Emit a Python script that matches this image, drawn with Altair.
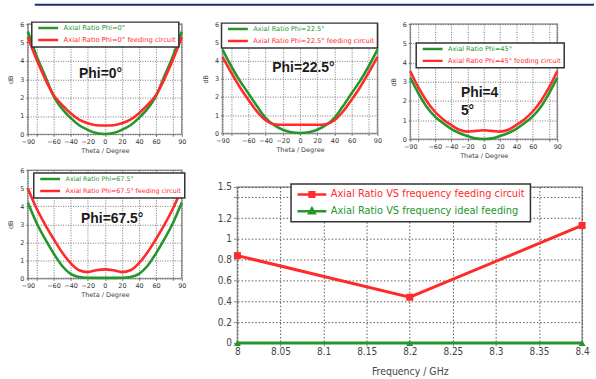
import altair as alt
import pandas as pd

GREEN = "#24962a"
RED = "#ff2a2a"
NAVY = "#1f2d6b"

theta = [-90, -80, -70, -60, -50, -40, -30, -20, -10, 0, 10, 20, 30, 40, 50, 60, 70, 80, 90]

# Phi = 0 deg
p1_ideal = [5.6, 4.3, 3.2, 2.1, 1.4, 0.9, 0.5, 0.25, 0.07, 0.02, 0.07, 0.25, 0.5, 0.9, 1.4, 2.1, 3.2, 4.3, 5.6]
p1_feed = [5.3, 4.1, 3.05, 2.15, 1.6, 1.15, 0.8, 0.6, 0.5, 0.48, 0.5, 0.6, 0.8, 1.15, 1.6, 2.15, 3.05, 4.1, 5.3]
# Phi = 22.5 deg
p2_ideal = [4.6, 3.7, 2.9, 2.2, 1.5, 0.85, 0.45, 0.2, 0.06, 0.02, 0.06, 0.2, 0.45, 0.85, 1.5, 2.2, 2.9, 3.7, 4.6]
p2_feed = [4.2, 3.35, 2.55, 1.85, 1.2, 0.72, 0.5, 0.47, 0.47, 0.47, 0.47, 0.47, 0.5, 0.72, 1.2, 1.85, 2.55, 3.35, 4.2]
# Phi = 45 deg
p3_ideal = [3.2, 2.4, 1.7, 1.2, 0.85, 0.55, 0.33, 0.17, 0.05, 0.02, 0.05, 0.17, 0.33, 0.55, 0.85, 1.2, 1.7, 2.4, 3.2]
p3_feed = [3.55, 2.7, 2.0, 1.45, 1.05, 0.75, 0.5, 0.4, 0.44, 0.47, 0.44, 0.4, 0.5, 0.75, 1.05, 1.45, 2.0, 2.7, 3.55]
# Phi = 67.5 deg
p4_ideal = [4.2, 3.1, 2.2, 1.4, 0.7, 0.25, 0.08, 0.04, 0.03, 0.03, 0.03, 0.04, 0.08, 0.25, 0.7, 1.4, 2.2, 3.1, 4.2]
p4_feed = [5.0, 3.9, 3.0, 2.2, 1.45, 0.85, 0.45, 0.35, 0.45, 0.5, 0.45, 0.35, 0.45, 0.85, 1.45, 2.2, 3.0, 3.9, 5.0]

# Axial ratio vs frequency
freq = [8.0, 8.2, 8.4]
ar_freq_feed = [0.84, 0.44, 1.13]
ar_freq_ideal = [0.0, 0.0, 0.0]

theta_ticks = [-90, -80, -60, -40, -20, 0, 20, 40, 60, 80, 90]
db_ticks = [0, 1, 2, 3, 4, 5, 6]
freq_ticks = [8.0, 8.05, 8.1, 8.15, 8.2, 8.25, 8.3, 8.35, 8.4]
ar_ticks = [0, 0.2, 0.4, 0.6, 0.8, 1.0, 1.2, 1.4, 1.5]

SMALL_FONT = "DejaVu Sans"
LABEL_COLOR_EXPR = "indexof(datum.value, 'feeding circuit') >= 0 ? '" + RED + "' : '" + GREEN + "'"
NOFRAME = alt.ViewBackground(stroke="transparent")


def small_panel(ideal, feed, phi, ann, text_align, lx, ly, lfs, w, h):
    lab_i = "Axial Ratio Phi=" + phi + "°"
    lab_f = "Axial Ratio Phi=" + phi + "° feeding circuit"
    df = pd.DataFrame({
        "theta": theta + theta,
        "ar": ideal + feed,
        "series": [lab_i] * len(theta) + [lab_f] * len(theta),
    })
    xenc = alt.X("theta:Q", scale=alt.Scale(domain=[-90, 90], nice=False, zero=False),
                 axis=alt.Axis(values=theta_ticks,
                               labelExpr="abs(datum.value) == 80 ? '' : datum.label",
                               labelFont=SMALL_FONT, labelFontSize=6.5, labelColor="#333",
                               labelFlush=False, labelOverlap=False,
                               tickSize=2, tickColor="#777", labelPadding=2.5,
                               domain=False, grid=True, gridColor="#555", gridDash=[1, 1.5],
                               gridWidth=0.8, title="Theta / Degree", titleFont=SMALL_FONT,
                               titleFontSize=6.5, titleFontWeight="normal", titleColor="#444",
                               titlePadding=2))
    yenc = alt.Y("ar:Q", scale=alt.Scale(domain=[0, 6], nice=False),
                 axis=alt.Axis(values=db_ticks, labelFont=SMALL_FONT, labelFontSize=6.5,
                               labelColor="#333", labelFlush=False, labelOverlap=False,
                               tickSize=2, tickColor="#777", labelPadding=2, domain=False,
                               grid=True, gridColor="#555", gridDash=[1, 1.5], gridWidth=0.8,
                               title="dB", titleFont=SMALL_FONT, titleFontSize=6.5,
                               titleFontWeight="normal", titleColor="#444", titlePadding=6))
    lines = alt.Chart(df).mark_line(interpolate="monotone", strokeWidth=2.6).encode(
        x=xenc, y=yenc,
        color=alt.Color("series:N",
                        scale=alt.Scale(domain=[lab_i, lab_f], range=[GREEN, RED]),
                        legend=alt.Legend(orient="none", legendX=lx, legendY=ly,
                                          direction="vertical", title=None,
                                          symbolType="stroke", symbolSize=400,
                                          symbolStrokeWidth=2.5, symbolOffset=2,
                                          clipHeight=6, rowPadding=5, padding=3,
                                          labelOffset=4, labelFont=SMALL_FONT,
                                          labelFontSize=lfs, labelLimit=0,
                                          labelColor={"expr": LABEL_COLOR_EXPR},
                                          strokeColor="#333", fillColor="white")),
    )
    adf = pd.DataFrame(ann)
    text = alt.Chart(adf).mark_text(font="Liberation Sans", fontWeight="bold", fontSize=14,
                                    color="#1a1a1a", baseline="middle", align=text_align).encode(
        x=xenc, y=yenc, text="label:N",
    )
    return alt.layer(lines, text).properties(width=w, height=h)


p1 = small_panel(p1_ideal, p1_feed, "0", {"theta": [-5], "ar": [3.3], "label": ["Phi=0°"]}, "center",
                 4, -2, 6.8, 155, 111)
p2 = small_panel(p2_ideal, p2_feed, "22.5", {"theta": [4], "ar": [3.6], "label": ["Phi=22.5°"]}, "center",
                 -1, -1, 6.7, 156, 110)
p3 = small_panel(p3_ideal, p3_feed, "45", {"theta": [-28, -28], "ar": [2.43, 1.5], "label": ["Phi=4", "5°"]},
                 "left", 6, 19, 6.6, 148, 116)
p4 = small_panel(p4_ideal, p4_feed, "67.5", {"theta": [8.7], "ar": [3.3], "label": ["Phi=67.5°"]}, "center",
                 6, 3, 6.4, 155, 109)

# Big panel
lab5_f = "Axial Ratio VS frequency feeding circuit"
lab5_i = "Axial Ratio VS frequency ideal feeding"
df5 = pd.DataFrame({
    "freq": freq + freq,
    "ar": ar_freq_feed + ar_freq_ideal,
    "series": [lab5_f] * len(freq) + [lab5_i] * len(freq),
})
BIG_FONT = "DejaVu Sans Condensed, Liberation Sans"
x5 = alt.X("freq:Q", scale=alt.Scale(domain=[8.0, 8.4], nice=False, zero=False),
           axis=alt.Axis(values=freq_ticks, format="~g", labelFont=BIG_FONT, labelFontSize=10,
                         labelColor="#444", labelFlush=False, labelOverlap=False,
                         tickSize=3, tickColor="#888", labelPadding=1, domain=False,
                         grid=True, gridColor="#444", gridDash=[1.5, 2], gridWidth=0.9,
                         title="Frequency / GHz", titleFont=BIG_FONT, titleFontSize=10.5,
                         titleFontWeight="normal", titleColor="#444", titlePadding=10))
y5 = alt.Y("ar:Q", scale=alt.Scale(domain=[0, 1.5], nice=False),
           axis=alt.Axis(values=ar_ticks,
                         labelExpr="datum.value == 1.4 ? '' : format(datum.value, '~g')",
                         labelFont=BIG_FONT, labelFontSize=10, labelColor="#444",
                         labelFlush=False, labelOverlap=False, tickSize=4, tickColor="#888",
                         labelPadding=2, domain=False, grid=True, gridColor="#444",
                         gridDash=[1.5, 2], gridWidth=0.9, title=None))
PATH_SQ = "M-1,0L1,0M-0.16,-0.16L0.16,-0.16L0.16,0.16L-0.16,0.16Z"
PATH_TRI = "M-1,0L1,0M0,-0.2L0.19,0.14L-0.19,0.14Z"
SYM_EXPR = "datum.value == '" + lab5_f + "' ? '" + PATH_SQ + "' : '" + PATH_TRI + "'"
FILL_EXPR = "datum.value == '" + lab5_f + "' ? '" + RED + "' : '" + GREEN + "'"
col5_scale = alt.Scale(domain=[lab5_f, lab5_i], range=[RED, GREEN])
line5 = alt.Chart(df5).mark_line(strokeWidth=3).encode(
    x=x5, y=y5,
    color=alt.Color("series:N", scale=col5_scale,
                    legend=alt.Legend(orient="none", legendX=54, legendY=-3, direction="vertical",
                                      title=None, symbolType={"expr": SYM_EXPR},
                                      symbolFillColor={"expr": FILL_EXPR},
                                      symbolSize=841, symbolStrokeWidth=2.5, clipHeight=11,
                                      rowPadding=5, padding=5, labelOffset=3,
                                      labelFont=BIG_FONT, labelFontSize=11, labelLimit=0,
                                      labelColor={"expr": LABEL_COLOR_EXPR},
                                      strokeColor="#333", fillColor="white")),
)
sq5 = alt.Chart(df5).transform_filter(
    alt.datum.series == lab5_f
).mark_point(shape="square", filled=True, size=50, opacity=1, color=RED).encode(x=x5, y=y5)
tri5 = alt.Chart(df5).transform_filter(
    alt.datum.series == lab5_i
).mark_point(shape="triangle-up", filled=True, size=50, opacity=1, color=GREEN).encode(x=x5, y=y5)
p5 = alt.layer(line5, sq5, tri5).properties(width=347, height=157)

helper_df = pd.DataFrame({"k": [0]})
spacer5 = alt.Chart(helper_df).mark_rule(opacity=0).encode(
    x=alt.value(0), x2=alt.value(1), y=alt.value(0)
).properties(width=347, height=10, view=NOFRAME)
p5_col = alt.vconcat(spacer5, p5, spacing=0).resolve_scale(color="independent")

top_rule = alt.Chart(helper_df).mark_rule(color=NAVY, strokeWidth=2).encode(
    x=alt.value(7), x2=alt.value(570), y=alt.value(-2.5)
).properties(width=570, height=6, view=NOFRAME)

left_pair = alt.hconcat(p1, p2, spacing=14).resolve_scale(color="independent")
top_row = alt.hconcat(left_pair, p3, spacing=6).resolve_scale(color="independent")
bottom_row = alt.hconcat(p4, p5_col, spacing=28).resolve_scale(color="independent")

chart = alt.vconcat(top_rule, top_row, bottom_row, spacing=6).resolve_scale(
    color="independent"
).properties(
    padding={"left": 7, "top": 1, "right": 0, "bottom": 0},
).configure_view(stroke="#9a9a9a", strokeWidth=1.5).configure_legend(strokeWidth=1.5)

chart.save("out.html", embed_options={"renderer": "svg", "actions": False})
